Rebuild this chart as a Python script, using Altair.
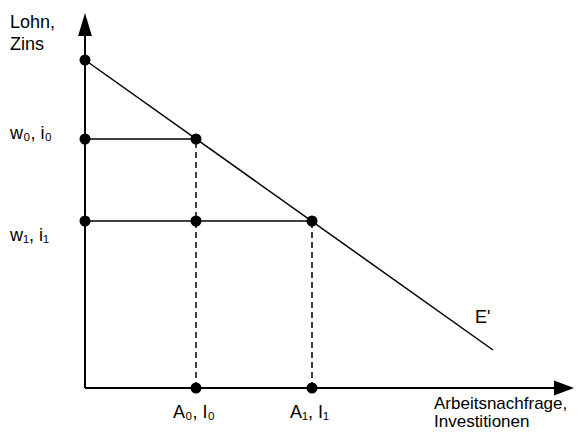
import altair as alt
import pandas as pd

# Values (data units = pixels from the origin)
demand_x = [0, 408]
demand_y = [328, 38]

wage_levels = [249, 167]          # w0/i0, w1/i1
quantity_levels = [111, 227]      # A0/I0, A1/I1

point_x = [0, 0, 111, 0, 111, 227, 111, 227]
point_y = [328, 249, 249, 167, 167, 167, 0, 0]

axis_len_x = 475
axis_len_y = 356

label_text = ["Lohn,", "Zins", "w₀, i₀", "w₁, i₁", "A₀, I₀", "A₁, I₁", "E'"]
label_x = [-75, -75, -75, -75, 88, 205, 390]
label_y = [360, 338, 249, 147, -30, -30, 65]

xlabel_text = ["Arbeitsnachfrage,", "Investitionen"]
xlabel_x = [349, 349]
xlabel_y = [-21, -39]

X = alt.Scale(domain=[-77, 490], nice=False, zero=False)
Y = alt.Scale(domain=[-43, 380], nice=False, zero=False)

def xe(f="x"):
    return alt.X(f"{f}:Q", scale=X, axis=None)

def ye(f="y"):
    return alt.Y(f"{f}:Q", scale=Y, axis=None)

axes_df = pd.DataFrame({"x": [0, 0], "y": [0, 0],
                        "x2": [axis_len_x, 0], "y2": [0, axis_len_y]})
axes = alt.Chart(axes_df).mark_rule(color="black", strokeWidth=2).encode(
    x=xe(), y=ye(), x2="x2:Q", y2="y2:Q")

arrows_df = pd.DataFrame({"x": [0, 479], "y": [363.5, 0], "dir": ["up", "right"]})
arrow_up = alt.Chart(arrows_df[arrows_df.dir == "up"]).mark_point(
    shape="M0,-1L-0.6,1L0.6,1Z", filled=True, color="black", opacity=1, size=529
).encode(x=xe(), y=ye())
arrow_right = alt.Chart(arrows_df[arrows_df.dir == "right"]).mark_point(
    shape="M1,0L-1,-0.75L-1,0.75Z", filled=True, color="black", opacity=1, size=400
).encode(x=xe(), y=ye())

demand = alt.Chart(pd.DataFrame({"x": demand_x, "y": demand_y})).mark_line(
    color="black", strokeWidth=1.5).encode(x=xe(), y=ye())

hdf = pd.DataFrame({"x": [0, 0], "x2": quantity_levels, "y": wage_levels})
hlines = alt.Chart(hdf).mark_rule(color="black", strokeWidth=1.5).encode(
    x=xe(), x2="x2:Q", y=ye())

vdf = pd.DataFrame({"x": quantity_levels, "y": [0, 0], "y2": wage_levels})
vlines = alt.Chart(vdf).mark_rule(color="black", strokeWidth=1.5,
                                  strokeDash=[6, 4]).encode(
    x=xe(), y=ye(), y2="y2:Q")

points = alt.Chart(pd.DataFrame({"x": point_x, "y": point_y})).mark_point(
    shape="circle", filled=True, color="black", opacity=1, size=121
).encode(x=xe(), y=ye())

labels = alt.Chart(pd.DataFrame({"x": label_x, "y": label_y, "t": label_text})).mark_text(
    align="left", baseline="alphabetic", font="Liberation Sans", fontSize=18,
    color="black"
).encode(x=xe(), y=ye(), text="t:N")

xlabels = alt.Chart(pd.DataFrame({"x": xlabel_x, "y": xlabel_y, "t": xlabel_text})).mark_text(
    align="left", baseline="alphabetic", font="Liberation Sans", fontSize=17,
    color="black"
).encode(x=xe(), y=ye(), text="t:N")

chart = alt.layer(axes, vlines, hlines, demand, arrow_up, arrow_right, points,
                  labels, xlabels).properties(
    width=567, height=423, padding=0, autosize=alt.AutoSizeParams(type="none")
).configure_view(stroke=None)

chart.save("out.html", embed_options={"renderer": "svg", "actions": False})
